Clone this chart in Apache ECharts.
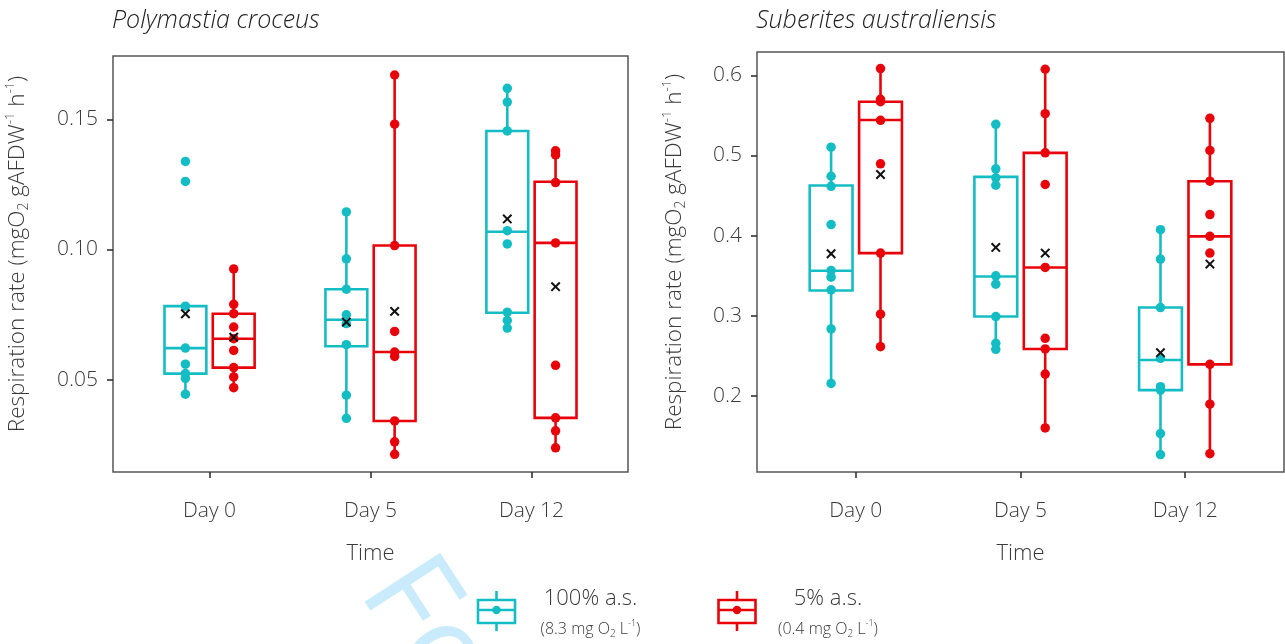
<!DOCTYPE html>
<html>
<head>
<meta charset="utf-8">
<script src="https://cdn.jsdelivr.net/npm/echarts@6/dist/echarts.min.js"></script>
<style>
html,body{margin:0;padding:0;background:#fff;}
#chart{width:1285px;height:644px;}
</style>
</head>
<body>
<div id="chart"></div>
<script>
const categories = ['Day 0', 'Day 5', 'Day 12'];
const groupNames = ['100% a.s.', '5% a.s.'];
const groupNotes = ['(8.3 mg O{sub|2} L{sup|-1})', '(0.4 mg O{sub|2} L{sup|-1})'];
const panelTitles = ['Polymastia croceus', 'Suberites australiensis'];
const leftTicks = [0.05, 0.10, 0.15];
const rightTicks = [0.2, 0.3, 0.4, 0.5, 0.6];

// Polymastia croceus  — box stats [low whisker, Q1, median, Q3, high whisker]
const polyCyanBox = [[0.0444,0.0523,0.0621,0.0782,0.0782],[0.0351,0.0628,0.0730,0.0847,0.1144],[0.0698,0.0757,0.1068,0.1455,0.1619]];
const polyRedBox  = [[0.0469,0.0546,0.0657,0.0753,0.0925],[0.0213,0.0341,0.0606,0.1015,0.1670],[0.0238,0.0353,0.1025,0.1260,0.1379]];
const polyCyanPts = [[0.1338,0.1261,0.0782,0.0621,0.0559,0.0523,0.0505,0.0444],[0.1144,0.0964,0.0847,0.0749,0.0715,0.0634,0.0440,0.0351],[0.1619,0.1566,0.1455,0.1072,0.1021,0.0759,0.0727,0.0698]];
const polyRedPts  = [[0.0925,0.0789,0.0753,0.0702,0.0657,0.0612,0.0546,0.0510,0.0469],[0.1670,0.1481,0.1015,0.0685,0.0606,0.0589,0.0341,0.0261,0.0213],[0.1379,0.1363,0.1257,0.1025,0.0555,0.0353,0.0303,0.0238]];
const polyCyanMean = [0.0753, 0.0721, 0.1117];
const polyRedMean  = [0.0663, 0.0762, 0.0857];

// Suberites australiensis
const subCyanBox = [[0.2158,0.3317,0.3563,0.4625,0.5104],[0.2583,0.2992,0.3492,0.4733,0.5388],[0.1271,0.2075,0.2450,0.3104,0.4075]];
const subRedBox  = [[0.2617,0.3783,0.5442,0.5670,0.6083],[0.1604,0.2588,0.3604,0.5033,0.6075],[0.1283,0.2396,0.3992,0.4679,0.5463]];
const subCyanPts = [[0.5104,0.4741,0.4616,0.4138,0.3567,0.3483,0.3325,0.2838,0.2158],[0.5388,0.4833,0.4721,0.4629,0.3500,0.3396,0.2992,0.2658,0.2583],[0.4075,0.3708,0.3104,0.2471,0.2117,0.2075,0.1533,0.1271]];
const subRedPts  = [[0.6083,0.5700,0.5670,0.5438,0.4896,0.3783,0.3021,0.2617],[0.6075,0.5521,0.5033,0.4638,0.3604,0.2721,0.2588,0.2275,0.1604],[0.5463,0.5063,0.4679,0.4263,0.3992,0.3783,0.2396,0.1900,0.1283]];
const subCyanMean = [0.3775, 0.3854, 0.2542];
const subRedMean  = [0.4763, 0.3783, 0.3646];

const CYAN = '#14BDC4';
const RED = '#E8030A';
const FONT = "'Open Sans', 'Noto Sans', sans-serif";
const TXT = '#3a3a3a';
const DODGE = 0.15;
const BOXW = 0.26;
const LW = 2.6;

function boxSeries(ax, boxes, offset, color, name) {
  return {
    type: 'custom', name: name, xAxisIndex: ax, yAxisIndex: ax, z: 2, silent: true,
    data: boxes.map((b, i) => [i + 1 + offset, b[0], b[1], b[2], b[3], b[4]]),
    encode: { x: 0, y: [1, 2, 3, 4, 5] },
    renderItem: function (params, api) {
      const x = api.value(0);
      const lo = api.coord([x, api.value(1)]);
      const q1 = api.coord([x, api.value(2)]);
      const md = api.coord([x, api.value(3)]);
      const q3 = api.coord([x, api.value(4)]);
      const hi = api.coord([x, api.value(5)]);
      const hw = api.size([BOXW, 0])[0] / 2;
      const cx = lo[0];
      const st = { stroke: color, lineWidth: LW, fill: null };
      return {
        type: 'group',
        children: [
          { type: 'line', shape: { x1: cx, y1: q1[1], x2: cx, y2: lo[1] }, style: st },
          { type: 'line', shape: { x1: cx, y1: q3[1], x2: cx, y2: hi[1] }, style: st },
          { type: 'rect', shape: { x: cx - hw, y: q3[1], width: 2 * hw, height: q1[1] - q3[1] }, style: { stroke: color, lineWidth: LW, fill: 'rgba(255,255,255,0)' } },
          { type: 'line', shape: { x1: cx - hw, y1: md[1], x2: cx + hw, y2: md[1] }, style: st }
        ]
      };
    }
  };
}

function pointSeries(ax, pts, offset, color, name) {
  const data = [];
  pts.forEach((arr, i) => arr.forEach(v => data.push([i + 1 + offset, v])));
  return {
    type: 'scatter', name: name, xAxisIndex: ax, yAxisIndex: ax, z: 3, silent: true,
    symbol: 'circle', symbolSize: 9.5, itemStyle: { color: color, opacity: 1 },
    data: data
  };
}

function meanSeries(ax, means, offset) {
  return {
    type: 'custom', xAxisIndex: ax, yAxisIndex: ax, z: 4, silent: true,
    data: means.map((m, i) => [i + 1 + offset, m]),
    encode: { x: 0, y: 1 },
    renderItem: function (params, api) {
      const p = api.coord([api.value(0), api.value(1)]);
      const h = 4.2;
      const st = { stroke: '#111', lineWidth: 2 };
      return {
        type: 'group',
        children: [
          { type: 'line', shape: { x1: p[0] - h, y1: p[1] - h, x2: p[0] + h, y2: p[1] + h }, style: st },
          { type: 'line', shape: { x1: p[0] - h, y1: p[1] + h, x2: p[0] + h, y2: p[1] - h }, style: st }
        ]
      };
    }
  };
}

function xAxisCfg(grid) {
  return {
    gridIndex: grid, type: 'value', min: 0.4, max: 3.6,
    splitLine: { show: false },
    axisLine: { show: false },
    axisTick: { show: true, customValues: [1, 2, 3], length: 6, lineStyle: { color: '#333', width: 1.6 } },
    axisLabel: { customValues: [1, 2, 3], formatter: v => categories[Math.round(v) - 1], fontSize: 21, color: TXT, margin: 29, fontFamily: FONT, fontWeight: 300 },
    name: 'Time', nameLocation: 'middle', nameGap: 71,
    nameTextStyle: { fontSize: 22, color: TXT, fontFamily: FONT, fontWeight: 300 }
  };
}

const yName = 'Respiration rate (mgO{sub|2} gAFDW{sup|-1} h{sup|-1})';
const yNameStyle = {
  fontSize: 22.5, color: TXT, fontFamily: FONT, fontWeight: 300, lineHeight: 27, padding: [0, 0, 0, 20],
  rich: {
    sub: { fontSize: 14, color: TXT, fontFamily: FONT, fontWeight: 300, verticalAlign: 'bottom', lineHeight: 14 },
    sup: { fontSize: 13, color: TXT, fontFamily: FONT, fontWeight: 300, verticalAlign: 'top', lineHeight: 15 }
  }
};

function yAxisCfg(grid, min, max, ticks, dec, gap) {
  return {
    gridIndex: grid, type: 'value', min: min, max: max,
    splitLine: { show: false },
    axisLine: { show: false },
    axisTick: { show: true, customValues: ticks, length: 6, lineStyle: { color: '#333', width: 1.6 } },
    axisLabel: { customValues: ticks, formatter: v => v.toFixed(dec), fontSize: 21, color: TXT, margin: 15, fontFamily: FONT, fontWeight: 300 },
    name: yName, nameLocation: 'middle', nameGap: gap, nameTextStyle: yNameStyle
  };
}

function legendIcon(cx, color) {
  const top = 600, bot = 623, hw = 18.5, mid = 610;
  const st = { stroke: color, lineWidth: 2.6, fill: null };
  return [
    { type: 'line', shape: { x1: cx, y1: 591, x2: cx, y2: top }, style: st },
    { type: 'line', shape: { x1: cx, y1: bot, x2: cx, y2: 631 }, style: st },
    { type: 'rect', shape: { x: cx - hw, y: top, width: 2 * hw, height: bot - top }, style: { stroke: color, lineWidth: 2.6, fill: '#fff' } },
    { type: 'line', shape: { x1: cx - hw, y1: mid, x2: cx + hw, y2: mid }, style: st },
    { type: 'circle', shape: { cx: cx, cy: mid, r: 4.2 }, style: { fill: color } }
  ];
}

function legendText(cx, i) {
  return [
    { type: 'text', x: cx, y: 599, style: { text: groupNames[i], fontSize: 22, fill: TXT, fontFamily: FONT, fontWeight: 300, align: 'center', verticalAlign: 'middle' } },
    { type: 'text', x: cx, y: 629, style: {
      text: groupNotes[i], fontSize: 16, fill: TXT, fontFamily: FONT, fontWeight: 300, align: 'center', verticalAlign: 'middle', lineHeight: 20,
      rich: {
        sub: { fontSize: 10, fill: TXT, fontFamily: FONT, fontWeight: 300, verticalAlign: 'bottom', lineHeight: 10 },
        sup: { fontSize: 9, fill: TXT, fontFamily: FONT, fontWeight: 300, verticalAlign: 'top', lineHeight: 11 }
      }
    } }
  ];
}

const chart = echarts.init(document.getElementById('chart'), null, { renderer: 'canvas' });
chart.setOption({
  animation: false,
  backgroundColor: '#fff',
  title: [
    { text: panelTitles[0], left: 112, top: 8, padding: 0, textStyle: { fontStyle: 'italic', fontSize: 25, fontWeight: 300, color: '#222', fontFamily: FONT } },
    { text: panelTitles[1], left: 756, top: 8, padding: 0, textStyle: { fontStyle: 'italic', fontSize: 25, fontWeight: 300, color: '#222', fontFamily: FONT } }
  ],
  grid: [
    { left: 113, top: 56, width: 515, height: 416, containLabel: false, outerBoundsMode: 'none', show: true, borderColor: '#555', borderWidth: 1.5, backgroundColor: 'transparent' },
    { left: 757, top: 52, width: 527, height: 420, containLabel: false, outerBoundsMode: 'none', show: true, borderColor: '#555', borderWidth: 1.5, backgroundColor: 'transparent' }
  ],
  xAxis: [xAxisCfg(0), xAxisCfg(1)],
  yAxis: [
    yAxisCfg(0, 0.0145, 0.1743, leftTicks, 2, 82),
    yAxisCfg(1, 0.1054, 0.629, rightTicks, 1, 69)
  ],
  graphic: [
    { type: 'text', x: 388, y: 572, rotation: -57 * Math.PI / 180, z: -1, silent: true,
      style: { text: 'For Review Only', fontSize: 126, fill: '#c9ebfb', fontFamily: FONT, fontWeight: 'normal', align: 'left', verticalAlign: 'middle' } }
  ].concat(legendIcon(496.5, CYAN), legendIcon(737, RED), legendText(590.5, 0), legendText(828, 1)),
  series: [
    boxSeries(0, polyCyanBox, -DODGE, CYAN, groupNames[0]),
    boxSeries(0, polyRedBox, DODGE, RED, groupNames[1]),
    pointSeries(0, polyCyanPts, -DODGE, CYAN, groupNames[0]),
    pointSeries(0, polyRedPts, DODGE, RED, groupNames[1]),
    meanSeries(0, polyCyanMean, -DODGE),
    meanSeries(0, polyRedMean, DODGE),
    boxSeries(1, subCyanBox, -DODGE, CYAN, groupNames[0]),
    boxSeries(1, subRedBox, DODGE, RED, groupNames[1]),
    pointSeries(1, subCyanPts, -DODGE, CYAN, groupNames[0]),
    pointSeries(1, subRedPts, DODGE, RED, groupNames[1]),
    meanSeries(1, subCyanMean, -DODGE),
    meanSeries(1, subRedMean, DODGE)
  ]
});
</script>
</body>
</html>
